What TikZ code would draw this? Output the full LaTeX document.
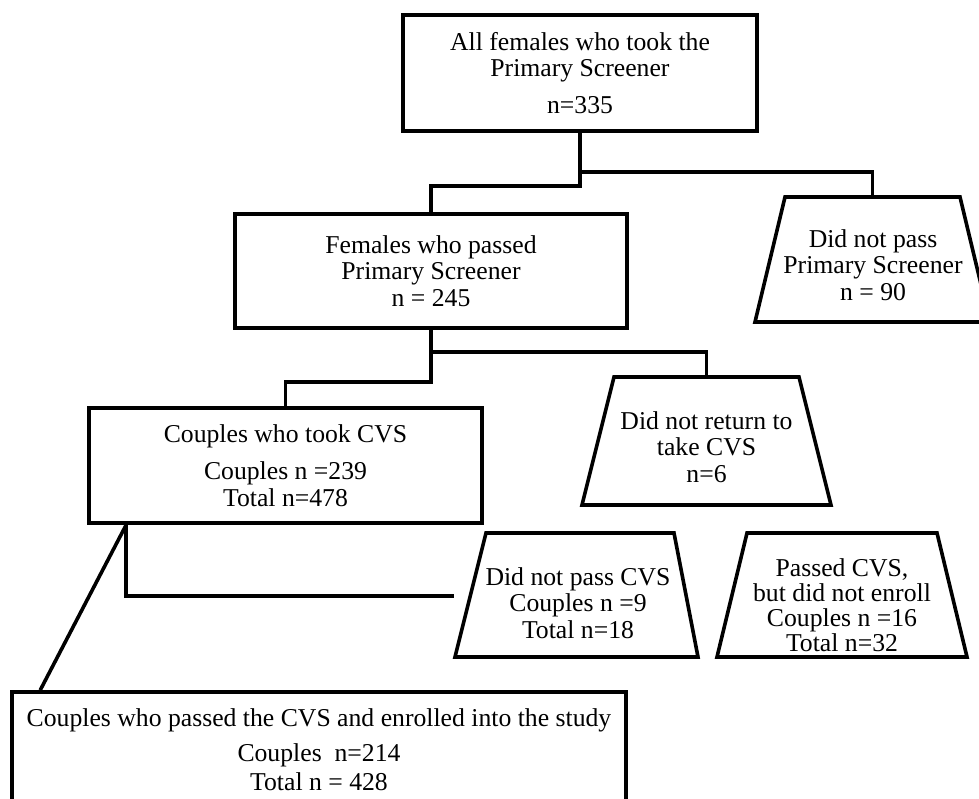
\documentclass[tikz,border=0pt]{standalone}
\usepackage{fontspec}
\setmainfont{Liberation Serif}
\usetikzlibrary{calc}
\begin{document}
\begin{tikzpicture}[x=1pt,y=-1pt,
  every node/.style={font=\fontsize{25.7}{26.5}\selectfont, align=center, inner sep=0pt},
  box/.style={draw, rectangle, line width=3.6pt},
  shp/.style={draw, line width=3.6pt},
  conn/.style={draw, line width=3.6pt}]
\clip (0,0) rectangle (979,799);
% boxes
\node[box, minimum width=354pt, minimum height=116pt] (b1) at (580,73)
  {All females who took the\\Primary Screener\\[10pt]n=335};
\node[box, minimum width=392pt, minimum height=114pt] (b2) at (431,271)
  {Females who passed\\Primary Screener\\n = 245};
\node[box, minimum width=393pt, minimum height=115pt] (b3) at (285.5,465.5)
  {Couples who took CVS\\[11pt]Couples n =239\\Total n=478};
\node[box, minimum width=614pt, minimum height=115pt] (b5) at (319,749.5)
  {Couples who passed the CVS and enrolled into the study\\[9pt]Couples~ n=214\\[2pt]Total n = 428};
% trapezoid outlines (centres c1..c4)
\coordinate (c1) at (872.5,259.5);
\coordinate (c2) at (706.5,441);
\coordinate (c3) at (576.5,595);
\coordinate (c4) at (842,595);
\draw[shp] ($(c1)+(-87.5,-62.5)$) -- ($(c1)+(87.5,-62.5)$) -- ($(c1)+(117.5,62.5)$) -- ($(c1)+(-117.5,62.5)$) -- cycle;
\draw[shp] ($(c2)+(-92.5,-64)$) -- ($(c2)+(92.5,-64)$) -- ($(c2)+(124.5,64)$) -- ($(c2)+(-124.5,64)$) -- cycle;
\draw[shp] ($(c3)+(-90.5,-62)$) -- ($(c3)+(97.5,-62)$) -- ($(c3)+(121.5,62)$) -- ($(c3)+(-121.5,62)$) -- cycle;
\draw[shp] ($(c4)+(-95,-62)$) -- ($(c4)+(95,-62)$) -- ($(c4)+(125,62)$) -- ($(c4)+(-125,62)$) -- cycle;
\coordinate (t1n) at ($(c1)+(0,-62.5)$);
\coordinate (t2n) at ($(c2)+(0,-64)$);
% trapezoid texts
\node (t1) at (873,265) {Did not pass\\Primary Screener\\n = 90};
\node (t2) at (706.5,447) {Did not return to\\take CVS\\n=6};
\node (t3) at (578,603) {Did not pass CVS\\Couples n =9\\Total n=18};
\node[font=\fontsize{25.7}{25}\selectfont] (t4) at (842,605.5) {Passed CVS,\\but did not enroll\\Couples n =16\\Total n=32};
% connectors
\coordinate (j1) at (580,186);
\coordinate (k1) at (580,172);
\draw[conn] (b1.south) -- (j1) -| (b2.north);
\draw[conn] (k1) -| (t1n);
\coordinate (j2) at (431,382);
\coordinate (k2) at (431,352);
\draw[conn] (b2.south) -- (j2) -| (b3.north);
\draw[conn] (k2) -| (t2n);
\coordinate (s3) at ($(b3.south west)+(39,0)$);
\coordinate (e3) at (454,596);
\coordinate (d5) at ($(b5.north west)+(30,0)$);
\draw[conn] (s3) |- (e3);
\draw[conn] (s3) -- (d5);
\end{tikzpicture}
\end{document}
